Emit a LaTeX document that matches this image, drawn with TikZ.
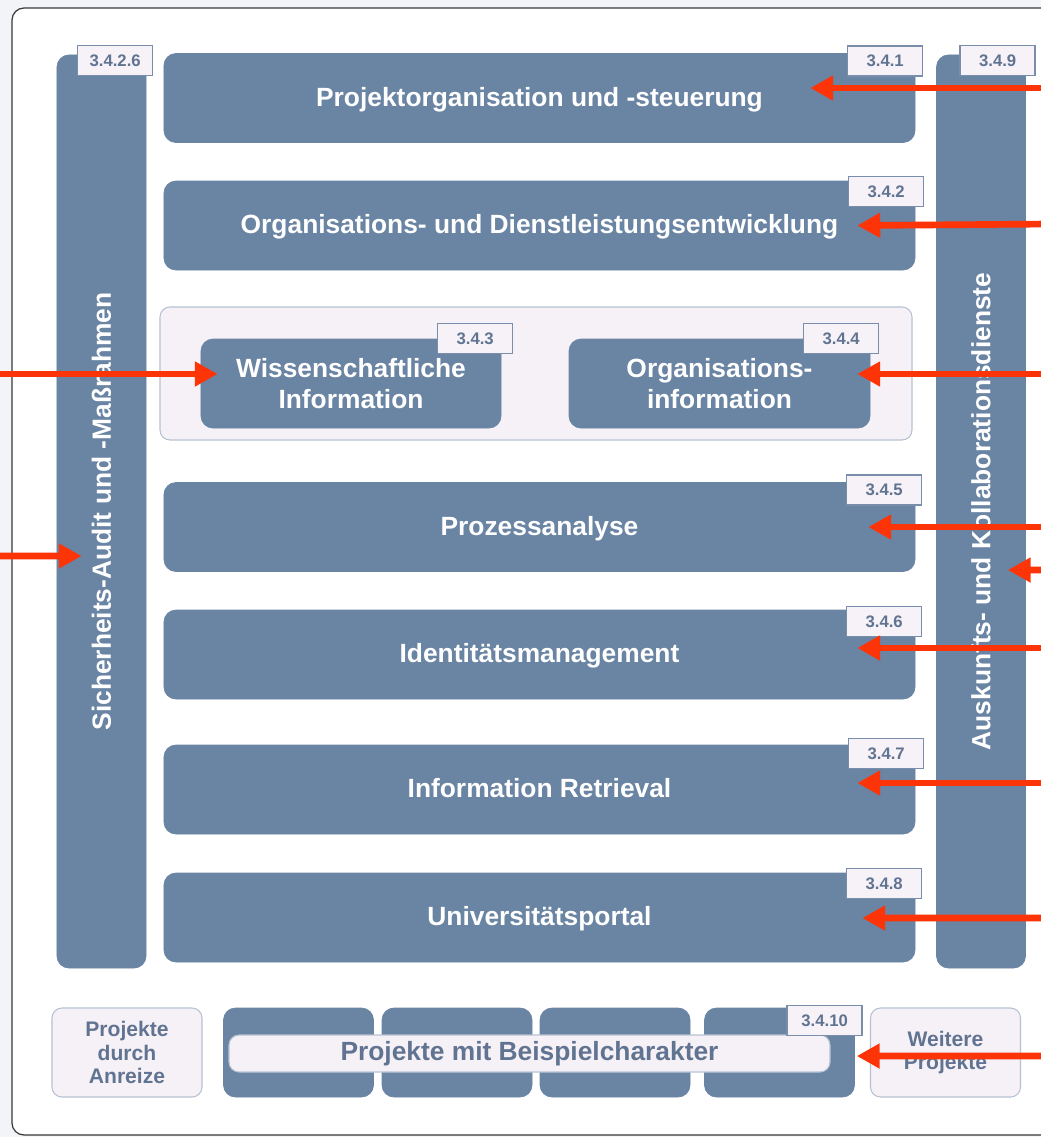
\documentclass[tikz,border=0pt]{standalone}
\usepackage{fontspec}
\setmainfont{Liberation Sans}
\usetikzlibrary{arrows.meta,positioning,calc}

\definecolor{slate}{RGB}{106,132,163}
\definecolor{tagfill}{RGB}{246,242,247}
\definecolor{tagline}{RGB}{120,142,170}
\definecolor{tagtext}{RGB}{96,116,146}
\definecolor{panelfill}{RGB}{246,241,246}
\definecolor{panelline}{RGB}{182,194,210}
\definecolor{arrowred}{RGB}{252,52,8}
\definecolor{bggray}{RGB}{242,244,247}

\tikzset{
  box/.style={fill=slate,draw=slate,rounded corners=2.4mm,text=white,align=center,inner sep=0pt,
    font=\fontsize{15}{18}\selectfont\bfseries},
  wide/.style={box,minimum width=150.2mm,minimum height=17.8mm,text depth=0.3ex},
  bar/.style={box,minimum width=17.8mm,minimum height=182.6mm},
  tag/.style={fill=tagfill,draw=tagline,line width=0.8pt,text=tagtext,inner sep=0pt,anchor=north east,
    minimum width=15mm,minimum height=6mm,font=\fontsize{9.5}{11}\selectfont\bfseries},
  panel/.style={fill=panelfill,draw=panelline,rounded corners=2mm,line width=0.6pt,inner sep=0pt},
  side/.style={panel,text=tagtext,align=center,minimum width=30mm,minimum height=17.8mm,
    font=\fontsize{12}{13.6}\selectfont\bfseries},
  redarr/.style={draw=arrowred,line width=3.8pt,-{Triangle[length=13pt,width=13.5pt]}}
}

\begin{document}
\begin{tikzpicture}[x=0.2mm,y=-0.2mm]
	\useasboundingbox (0,0) rectangle (1041,1137);
	\clip (0,0) rectangle (1041,1137);
	\fill[bggray] (0,0) rectangle (1041,1137);
	\draw[black!78,fill=white,line width=0.7pt,rounded corners=2.4mm] (12,8) rectangle (1070,1135);

	% side bars
	\node[bar] (secbar) at (101.5,511.5) {};
	\node[rotate=90,text=white,font=\fontsize{15}{18}\selectfont\bfseries] (sectext) at (secbar) {Sicherheits-Audit und -Maßrahmen};
	\node[tag] (t26) at ([shift={(7,-10)}]secbar.north east) {3.4.2.6};
	\node[bar] (colbar) at (981,511.5) {};
	\node[rotate=90,text=white,font=\fontsize{15}{18}\selectfont\bfseries] (coltext) at (colbar) {Auskunfts- und Kollaborationsdienste};
	\node[tag] (t9) at ([shift={(10,-10)}]colbar.north east) {3.4.9};

	% main rows
	\node[wide] (p1) at (539.5,98) {Projektorganisation und -steuerung};
	\node[tag] (t1) at ([shift={(8,-8)}]p1.north east) {3.4.1};
	\node[wide] (p2) at (539.5,225.5) {Organisations- und Dienstleistungsentwicklung};
	\node[tag] (t2) at ([shift={(9,-5)}]p2.north east) {3.4.2};

	\node[panel,minimum width=150.4mm,minimum height=26.6mm] (grp) at (536,373.5) {};
	\node[box,minimum width=60mm,minimum height=17.8mm] (s1) at (351,383.5) {Wissenschaftliche\\Information};
	\node[tag] (t3) at ([shift={(12,-16)}]s1.north east) {3.4.3};
	\node[box,minimum width=60.2mm,minimum height=17.8mm] (s2) at (719.5,383.5) {Organisations-\\information};
	\node[tag] (t4) at ([shift={(9,-16)}]s2.north east) {3.4.4};

	\node[wide] (p5) at (539.5,527) {Prozessanalyse};
	\node[tag] (t5) at ([shift={(7,-8)}]p5.north east) {3.4.5};
	\node[wide] (p6) at (539.5,654.5) {Identitätsmanagement};
	\node[tag] (t6) at ([shift={(7,-4)}]p6.north east) {3.4.6};
	\node[wide] (p7) at (539.5,789.5) {Information Retrieval};
	\node[tag] (t7) at ([shift={(9,-7)}]p7.north east) {3.4.7};
	\node[wide] (p8) at (539.5,917.5) {Universitätsportal};
	\node[tag] (t8) at ([shift={(7,-5)}]p8.north east) {3.4.8};

	% bottom row
	\node[side] (anreiz) at (127,1052.5) {Projekte\\durch\\Anreize};
	\foreach \n/\x in {d1/298.5,d2/457,d3/615,d4/779.5}
		\node[box,minimum width=30mm,minimum height=17.8mm] (\n) at (\x,1052.5) {};
	\node[side] (weitere) at (945.5,1052.5) {Weitere\\Projekte};
	\node[panel,rounded corners=2mm,minimum width=120.2mm,minimum height=7.4mm,text=tagtext,
		font=\fontsize{15}{18}\selectfont\bfseries] (pill) at (529.5,1053.5) {Projekte mit Beispielcharakter};
	\node[tag] (t10) at ([shift={(8,-3)}]d4.north east) {3.4.10};

	% arrows
	\foreach \c/\y in {e1/88,e2/224,e3/374,e4/527,e5/570,e6/648,e7/783,e8/918,e9/1056}
		\coordinate (\c) at (1050,\y);
	\coordinate (w1) at (-10,374);
	\coordinate (w2) at (-10,556);
	\draw[redarr] (e1) -- ([shift={(-105,-10)}]p1.east);
	\draw[redarr] (e2) -- ([shift={(-58,0)}]p2.east);
	\draw[redarr] (e3) -- ([shift={(-13,-9.5)}]s2.east);
	\draw[redarr] (e4) -- ([shift={(-47,0)}]p5.east);
	\draw[redarr] (e5) -- ([shift={(-18,58.5)}]colbar.east);
	\draw[redarr] (e6) -- ([shift={(-58,-6.5)}]p6.east);
	\draw[redarr] (e7) -- ([shift={(-58,-6.5)}]p7.east);
	\draw[redarr] (e8) -- ([shift={(-53,0.5)}]p8.east);
	\draw[redarr] (e9) -- ([shift={(2,3.5)}]d4.east);
	\draw[redarr] (w1) -- ([shift={(17,-9.5)}]s1.west);
	\draw[redarr] (w2) -- ([shift={(25,44.5)}]secbar.west);
\end{tikzpicture}
\end{document}
